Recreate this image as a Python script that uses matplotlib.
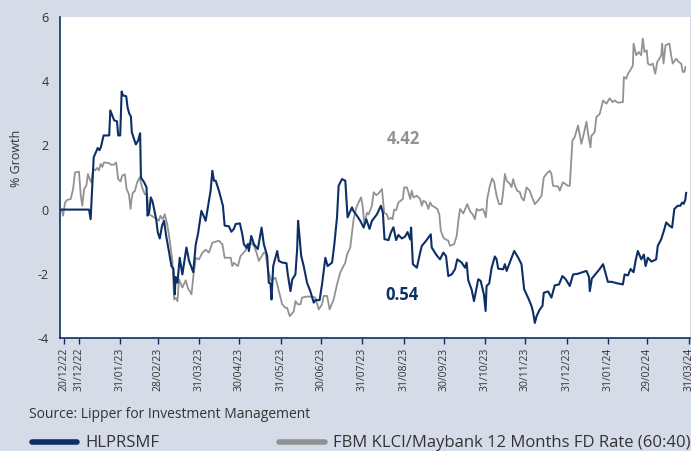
import matplotlib
matplotlib.use("Agg")
import matplotlib.pyplot as plt
import matplotlib.dates as mdates
from matplotlib.lines import Line2D
import pandas as pd

plt.rcParams['font.family'] = ['Open Sans', 'DejaVu Sans']
plt.rcParams['axes.unicode_minus'] = False

# days counted from 31/12/2022, % growth
fund_days = [-13.4, 7.7, 8.9, 11.2, 14.2, 15.5, 16.6, 18.6, 22.8, 23.6, 25.4, 26.5, 28.6, 29.5, 31.0,
             32.1, 33.0, 35.5, 36.5, 37.7, 39.0, 39.7, 42.7, 44.4, 45.9, 46.5, 48.9, 50.7, 51.4, 52.6,
             53.9, 55.2, 56.9, 57.9, 59.1, 60.6, 62.3, 63.8, 65.5, 67.6, 69.3, 70.8, 71.8, 72.5, 73.8,
             75.5, 77.5, 80.5, 82.5, 85.6, 87.5, 89.2, 91.7, 93.4, 94.9, 98.6, 99.9, 101.1, 102.4, 104.8,
             107.8, 109.1, 112.3, 114.1, 116.0, 117.3, 120.5, 122.3, 123.5, 125.5, 126.5, 127.2, 129.0,
             131.0, 133.9, 136.7, 138.4, 140.9, 142.1, 143.4, 144.1, 145.4, 147.1, 148.4, 149.6, 152.1,
             155.3, 156.3, 158.3, 159.6, 162.0, 163.3, 164.0, 165.0, 166.3, 168.2, 170.7, 173.2, 175.7,
             176.9, 180.1, 181.9, 184.4, 186.1, 189.4, 191.1, 193.1, 194.3, 196.8, 199.3, 201.0, 204.3,
             205.5, 208.0, 210.5, 213.0, 215.0, 217.4, 219.2, 222.9, 225.9, 227.4, 228.6, 231.6, 233.4,
             235.3, 237.3, 239.0, 241.6, 244.0, 245.8, 247.8, 248.5, 249.8, 252.8, 255.2, 256.5, 259.7,
             261.4, 263.2, 263.9, 267.2, 270.1, 272.6, 274.6, 276.3, 278.8, 281.3, 283.0, 286.3, 288.8,
             290.0, 291.2, 293.8, 295.5, 298.7, 300.5, 302.9, 304.2, 304.9, 306.9, 308.7, 311.1, 312.4,
             313.6, 317.3, 318.6, 319.9, 321.8, 323.6, 325.6, 328.6, 331.0, 333.0, 336.0, 338.5, 339.7,
             341.0, 342.3, 344.7, 346.7, 347.7, 350.9, 353.4, 355.9, 359.1, 361.6, 364.1, 367.1, 369.6,
             373.1, 376.8, 379.6, 381.5, 382.1, 383.6, 386.5, 389.5, 392.0, 394.0, 395.6, 398.4, 402.9,
             406.8, 408.1, 410.6, 412.6, 414.8, 416.3, 418.0, 420.6, 422.5, 423.8, 425.5, 428.2, 431.7,
             432.9, 435.5, 436.6, 437.9, 439.2, 441.6, 443.6, 445.3, 447.8, 449.8, 451.1, 452.3, 453.5,
             454.1]
fund_vals = [0.00, 0.00, -0.30, 1.63, 1.92, 1.85, 1.95, 2.31, 2.31, 3.09, 2.90, 2.78, 2.75, 2.31, 2.31,
             3.68, 3.56, 3.53, 3.19, 3.00, 2.90, 2.41, 2.03, 2.15, 2.38, 1.00, 0.85, 0.69, -0.19, -0.10,
             0.38, 0.25, -0.09, -0.30, -0.71, -0.90, -0.50, -0.35, -0.85, -1.34, -1.76, -1.84, -2.64, -2.10, -2.28,
             -1.50, -2.02, -1.18, -1.60, -1.95, -1.08, -0.75, -0.04, -0.20, -0.35, 0.59, 1.21, 0.90, 0.90, 0.59,
             0.12, -0.50, -0.52, -0.69, -0.60, -0.45, -0.43, -0.77, -1.08, -1.19, -1.08, -1.29, -0.82,
             -1.08, -1.23, -0.56, -1.08, -1.44, -2.28, -2.30, -2.80, -1.76, -1.50, -1.29, -1.60, -1.65,
             -1.67, -2.02, -2.54, -2.18, -2.02, -1.23, -0.35, -0.80, -1.44, -1.76, -2.28, -2.55, -2.90,
             -2.82, -2.82, -2.33, -1.50, -1.76, -1.65, -1.08, -0.24, 0.74, 0.95, 0.90, -0.24, 0.07,
             -0.05, -0.19, -0.35, -0.56, -0.30, -0.60, -0.35, -0.15, 0.12, -0.10, -0.92, -0.95, -0.71,
             -0.55, -0.95, -0.79, -0.90, -0.84, -0.70, -0.93, -0.56, -1.70, -1.81, -1.35, -1.13, -0.97,
             -0.87, -0.77, -1.18, -1.40, -1.55, -1.34, -1.45, -2.07, -2.02, -1.86, -1.55, -1.65, -1.81,
             -1.65, -2.20, -2.50, -2.85, -2.17, -2.22, -2.64, -3.16, -2.38, -2.30, -1.81, -1.46, -1.55,
             -1.84, -1.86, -1.70, -1.91, -1.70, -1.50, -1.29, -1.50, -1.70, -2.48, -2.75, -3.00, -3.20,
             -3.53, -3.32, -3.11, -3.00, -2.59, -2.55, -2.74, -2.36, -2.33, -2.07, -2.17, -2.38, -2.02,
             -2.00, -1.95, -1.91, -2.10, -2.54, -2.15, -2.00, -1.85, -1.70, -2.00, -2.25, -2.25, -2.30,
             -2.33, -2.02, -2.05, -1.85, -1.95, -1.60, -1.29, -1.55, -1.40, -1.76, -1.50, -1.62, -1.55,
             -1.13, -0.92, -0.77, -0.60, -0.40, -0.50, -0.56, 0.02, 0.12, 0.12, 0.22, 0.18, 0.31,
             0.52]

bench_days = [-12.7, -11.7, -10.2, -8.7, -6.0, -4.2, -2.8, 0.2, 1.5, 2.7, 4.0, 5.7, 6.9, 8.2, 9.4,
              10.9, 12.2, 13.9, 15.1, 16.4, 17.6, 18.9, 22.6, 23.9, 26.3, 28.0, 29.5, 31.3, 32.5, 34.5,
              35.8, 37.5, 38.8, 39.5, 40.5, 42.0, 43.7, 45.5, 47.4, 49.4, 51.1, 52.4, 54.4, 56.1, 58.6,
              59.9, 61.1, 62.9, 64.3, 66.1, 67.3, 68.8, 70.1, 71.3, 72.5, 73.8, 75.0, 77.5, 80.0, 81.7,
              84.3, 85.7, 87.5, 89.9, 92.5, 94.9, 97.4, 99.9, 104.8, 107.4, 109.1, 113.6, 114.8, 116.0,
              119.0, 121.0, 124.7, 126.0, 128.5, 131.0, 132.9, 134.7, 138.4, 139.6, 141.4, 143.9, 147.1,
              149.6, 152.1, 154.6, 155.8, 157.8, 160.8, 162.0, 163.7, 165.8, 167.0, 170.7, 174.5, 176.9,
              179.4, 181.9, 183.1, 185.7, 187.6, 190.6, 193.1, 195.6, 199.3, 200.6, 203.0, 204.3, 205.5,
              207.6, 209.3, 211.1, 212.3, 213.5, 215.5, 216.7, 219.2, 220.5, 222.5, 224.1, 226.7, 228.4,
              230.4, 231.6, 233.4, 234.6, 235.8, 237.3, 239.0, 242.3, 243.3, 245.3, 246.5, 247.8, 249.0,
              250.2, 252.8, 255.2, 256.5, 257.7, 259.7, 261.4, 262.7, 264.2, 266.4, 268.1, 269.6, 270.7,
              272.6, 273.9, 276.3, 277.6, 280.6, 282.6, 283.8, 285.1, 287.5, 290.5, 292.5, 294.5, 296.2,
              297.5, 299.2, 302.0, 302.9, 304.4, 305.4, 307.4, 309.1, 310.6, 312.4, 314.3, 316.1, 317.3,
              318.6, 319.9, 322.3, 323.6, 324.8, 326.1, 327.8, 329.8, 331.0, 332.8, 334.8, 337.2, 338.5,
              341.0, 343.4, 346.0, 347.7, 350.2, 352.2, 353.4, 354.6, 358.4, 359.6, 362.0, 365.8, 367.1,
              369.1, 370.8, 373.3, 375.8, 377.6, 379.6, 380.8, 382.6, 383.3, 385.7, 387.0, 389.5, 392.0,
              394.5, 397.0, 399.0, 400.7, 403.2, 406.8, 407.6, 409.3, 410.6, 413.1, 414.3, 414.8, 416.8,
              418.7, 420.5, 421.7, 423.0, 424.7, 425.5, 427.3, 429.2, 431.0, 432.5, 434.2, 435.5, 436.2,
              437.2, 438.7, 441.6, 442.9, 444.1, 446.6, 448.6, 450.4, 451.6, 452.9, 453.5]
bench_vals = [0.00, -0.19, 0.22, 0.30, 0.33, 0.64, 1.16, 1.18, 0.45, 0.12, 0.64, 0.75, 1.11, 0.95, 0.85,
              1.27, 1.22, 1.30, 1.22, 1.42, 1.33, 1.47, 1.45, 1.40, 1.40, 1.47, 0.95, 0.88, 1.06, 1.10,
              0.64, 0.48, 0.02, 0.33, 0.53, 0.58, 0.85, 1.00, 0.69, 0.48, 0.48, -0.14, -0.19, -0.24, -0.30,
              -0.35, -0.19, -0.30, -0.14, -0.45, -0.75, -1.20, -1.65, -2.80, -2.75, -2.85, -2.17, -2.43, -2.20, -2.45,
              -2.64, -2.07, -1.50, -1.55, -1.34, -1.25, -1.34, -1.03, -0.97, -1.08, -1.50, -1.50, -1.76, -1.66,
              -1.76, -1.44, -1.28, -1.08, -1.03, -1.13, -1.34, -1.60, -1.34, -1.34, -1.86, -2.22, -2.12,
              -2.54, -2.95, -3.06, -3.06, -3.32, -3.17, -2.85, -2.95, -2.95, -2.74, -2.71, -2.71, -2.74,
              -3.11, -2.95, -2.69, -2.69, -3.11, -2.80, -2.33, -1.95, -1.65, -1.40, -1.18, -0.71, -0.30,
              0.07, 0.23, 0.38, 0.10, -0.45, -0.10, -0.15, 0.12, 0.54, 0.45, 0.50, 0.64, -0.10,
              -0.15, -0.30, -0.25, -0.30, 0.00, -0.02, 0.22, 0.33, 0.69, 0.69, 0.54, 0.33, 0.59,
              0.38, 0.43, 0.33, 0.12, 0.28, 0.22, 0.02, 0.22, 0.12, 0.07, 0.02, -0.15, -0.66,
              -0.87, -0.92, -0.97, -1.13, -1.08, -0.82, -0.35, 0.02, -0.12, 0.17, -0.05, -0.15, -0.30,
              0.02, -0.03, 0.02, -0.05, -0.24, 0.33, 0.75, 0.97, 0.85, 0.43, 0.17, 0.17, 0.54,
              1.11, 0.90, 0.80, 0.70, 0.95, 0.75, 0.59, 0.54, 0.38, 0.28, 0.69, 0.59, 0.43,
              0.17, 0.28, 0.43, 1.00, 1.14, 1.21, 1.11, 0.74, 0.72, 0.59, 0.85, 0.74, 0.74,
              2.15, 2.26, 2.62, 2.05, 2.36, 2.74, 2.36, 1.94, 2.30, 2.41, 2.88, 2.98, 3.40,
              3.30, 3.47, 3.35, 3.40, 3.33, 3.35, 4.13, 4.08, 4.23, 4.39, 4.50, 5.17, 4.81,
              4.91, 4.81, 5.33, 4.91, 4.96, 4.55, 4.50, 4.55, 4.23, 4.60, 4.70, 4.81, 5.17,
              4.55, 5.12, 5.17, 4.81, 4.55, 4.70, 4.60, 4.55, 4.29, 4.29, 4.44]

tick_dates = ['2022-12-20', '2022-12-31', '2023-01-31', '2023-02-28', '2023-03-31', '2023-04-30',
              '2023-05-31', '2023-06-30', '2023-07-31', '2023-08-31', '2023-09-30', '2023-10-31',
              '2023-11-30', '2023-12-31', '2024-01-31', '2024-02-29', '2024-03-31']

fund_name = 'HLPRSMF'
bench_name = 'FBM KLCI/Maybank 12 Months FD Rate (60:40)'
fund_last = '0.54'
bench_last = '4.42'

navy = '#0d2f67'
grey = '#929292'
bg = '#d5dbe7'
txt = '#333333'

base = pd.Timestamp('2022-12-31')
fund_x = base + pd.to_timedelta(fund_days, unit='D')
bench_x = base + pd.to_timedelta(bench_days, unit='D')

fig = plt.figure(figsize=(6.91, 4.51), dpi=100, facecolor=bg)
ax = fig.add_axes([60 / 691, 113 / 451, 630 / 691, 321 / 451])
ax.set_facecolor('white')

ax.plot(bench_x, bench_vals, color=grey, lw=1.3)
ax.plot(fund_x, fund_vals, color=navy, lw=1.5)

ax.set_ylim(-4, 6)
ax.set_yticks([-4, -2, 0, 2, 4, 6])
ax.set_xlim(pd.Timestamp('2022-12-17'), pd.Timestamp('2024-04-01'))
ticks = pd.to_datetime(tick_dates)
ax.set_xticks(ticks)
ax.set_xticklabels([t.strftime('%d/%m/%y') for t in ticks], rotation=90, fontsize=7.5, color=txt)

for s in ['top', 'right']:
    ax.spines[s].set_visible(False)
for s in ['left', 'bottom']:
    ax.spines[s].set_color(navy)
    ax.spines[s].set_linewidth(1.2)
ax.tick_params(axis='y', length=0, pad=8, labelsize=9, labelcolor=txt)
ax.tick_params(axis='x', length=4, width=1, color=navy, pad=3)

ax.text(pd.Timestamp('2023-08-31'), 2.2, bench_last, color=grey, fontsize=12, fontweight='bold',
        ha='center', va='center')
ax.text(pd.Timestamp('2023-08-30'), -2.65, fund_last, color=navy, fontsize=12, fontweight='bold',
        ha='center', va='center')

fig.text(17 / 691, 1 - 158 / 451, '% Growth', rotation=90, fontsize=9, color=txt,
         ha='center', va='center')
fig.text(29 / 691, 1 - 414 / 451, 'Source: Lipper for Investment Management', fontsize=10,
         color=txt, ha='left', va='center')

# legend
fig.add_artist(Line2D([32 / 691, 77 / 691], [1 - 442 / 451] * 2, color=navy, lw=4,
                      solid_capstyle='round'))
fig.text(85 / 691, 1 - 443 / 451, fund_name, fontsize=12, color=txt, ha='left', va='center')
fig.add_artist(Line2D([279 / 691, 325 / 691], [1 - 442 / 451] * 2, color=grey, lw=4,
                      solid_capstyle='round'))
fig.text(333 / 691, 1 - 443 / 451, bench_name, fontsize=12, color=txt, ha='left', va='center')

fig.savefig('out.png', dpi=100, facecolor=bg)
